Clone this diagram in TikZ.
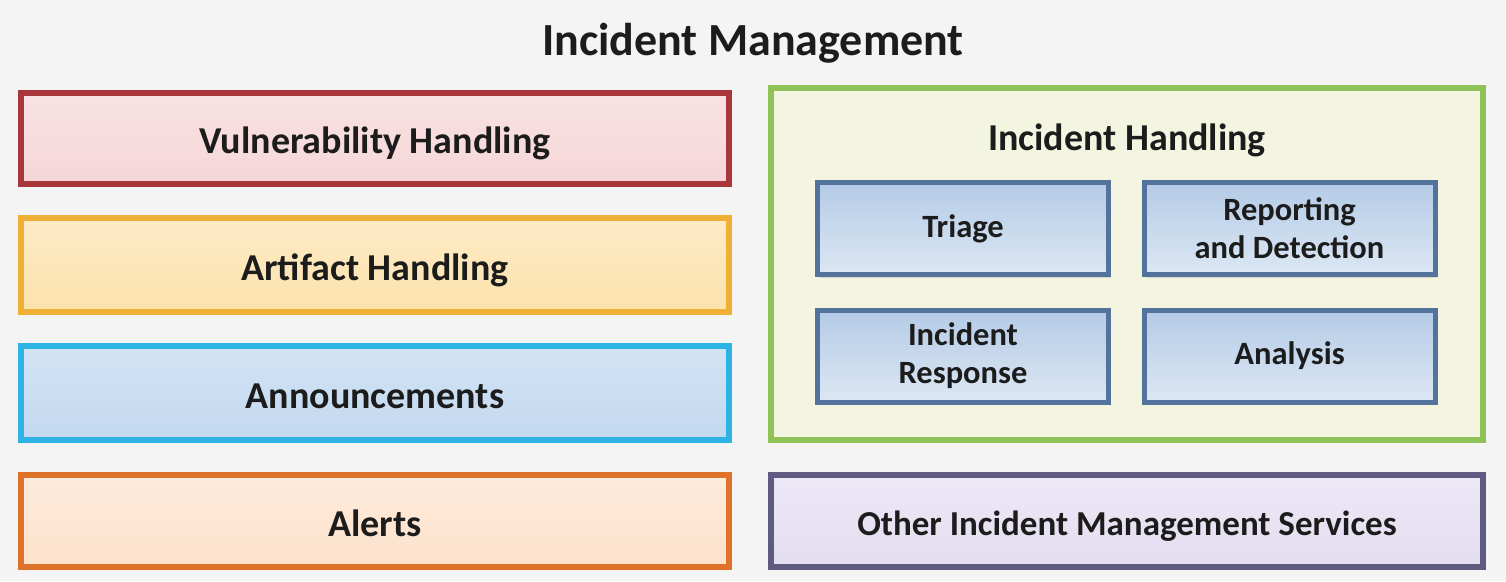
\documentclass[tikz,border=0pt]{standalone}
\usepackage{fontspec}
\setmainfont{Carlito}
\usetikzlibrary{shadings,shadows}
\definecolor{bgc}{HTML}{F3F4F3}
\definecolor{txt}{HTML}{1C1C1C}
\definecolor{vulB}{HTML}{A8363B}\definecolor{vulF}{HTML}{F6D6D8}\definecolor{vulT}{HTML}{F9E2E3}
\definecolor{artB}{HTML}{F0B035}\definecolor{artF}{HTML}{FCE2AC}\definecolor{artT}{HTML}{FDEBC6}
\definecolor{annB}{HTML}{2EB4E4}\definecolor{annF}{HTML}{C3D9F0}\definecolor{annT}{HTML}{D2E3F4}
\definecolor{aleB}{HTML}{DE7228}\definecolor{aleF}{HTML}{FDE1CB}\definecolor{aleT}{HTML}{FEEBDC}
\definecolor{ihB}{HTML}{8FC257}\definecolor{ihF}{HTML}{F3F5E0}
\definecolor{inB}{HTML}{54739C}\definecolor{inF}{HTML}{C4D7EC}\definecolor{inT}{HTML}{B4CBE6}
\definecolor{othB}{HTML}{5E5A80}\definecolor{othF}{HTML}{E3DDF0}\definecolor{othT}{HTML}{EDE8F6}
\tikzset{
  wide/.style={draw, line width=6pt, minimum width=708pt, minimum height=91pt, inner sep=0pt,
    text=txt, font=\fontsize{38}{44}\selectfont\bfseries,
    text height=32pt, text depth=2pt,
    drop shadow={opacity=0.25, shadow xshift=2pt, shadow yshift=-3pt}},
  inner/.style={draw=inB, line width=5pt, minimum width=291pt, minimum height=92pt, inner sep=0pt,
    top color=inT, bottom color=inF!60!white, text=txt, align=center,
    font=\fontsize{32.5}{38}\selectfont\bfseries,
    drop shadow={opacity=0.25, shadow xshift=2pt, shadow yshift=-3pt}},
}
\begin{document}
\begin{tikzpicture}[x=1pt,y=-1pt]
\useasboundingbox (0,0) rectangle (1506,581);
\fill[bgc] (0,0) rectangle (1506,581);
\node[anchor=base, text=txt, font=\fontsize{46}{52}\selectfont\bfseries] (title) at (753,55) {Incident Management};
\node[wide, draw=vulB, top color=vulT, bottom color=vulF, minimum height=91pt] (vul) at (375,138.5) {Vulnerability Handling};
\node[wide, draw=artB, top color=artT, bottom color=artF, minimum height=94pt] (art) at (375,265) {Artifact Handling};
\node[wide, draw=annB, top color=annT, bottom color=annF, minimum height=94pt] (ann) at (375,393) {Announcements};
\node[wide, draw=aleB, top color=aleT, bottom color=aleF, minimum height=92pt] (ale) at (375,521) {Alerts};
\node[draw=ihB, fill=ihF, line width=6pt, minimum width=712pt, minimum height=352pt, inner sep=0pt,
  drop shadow={opacity=0.25, shadow xshift=2pt, shadow yshift=-3pt}] (ih) at (1127,264) {};
\node[anchor=base, text=txt, font=\fontsize{38}{44}\selectfont\bfseries] (iht) at (1127,150) {Incident Handling};
\node[inner] (tri) at (963,228.5) {Triage};
\node[inner] (rep) at (1289.5,228.5) {Reporting\\and Detection};
\node[inner] (ire) at (963,356) {Incident\\Response};
\node[inner] (ana) at (1289.5,356) {Analysis};
\node[wide, draw=othB, top color=othT, bottom color=othF, minimum width=712pt, minimum height=92pt,
  font=\fontsize{35}{40}\selectfont\bfseries, text height=30pt, text depth=2pt] (oth) at (1127,521) {Other Incident Management Services};
\end{tikzpicture}
\end{document}
